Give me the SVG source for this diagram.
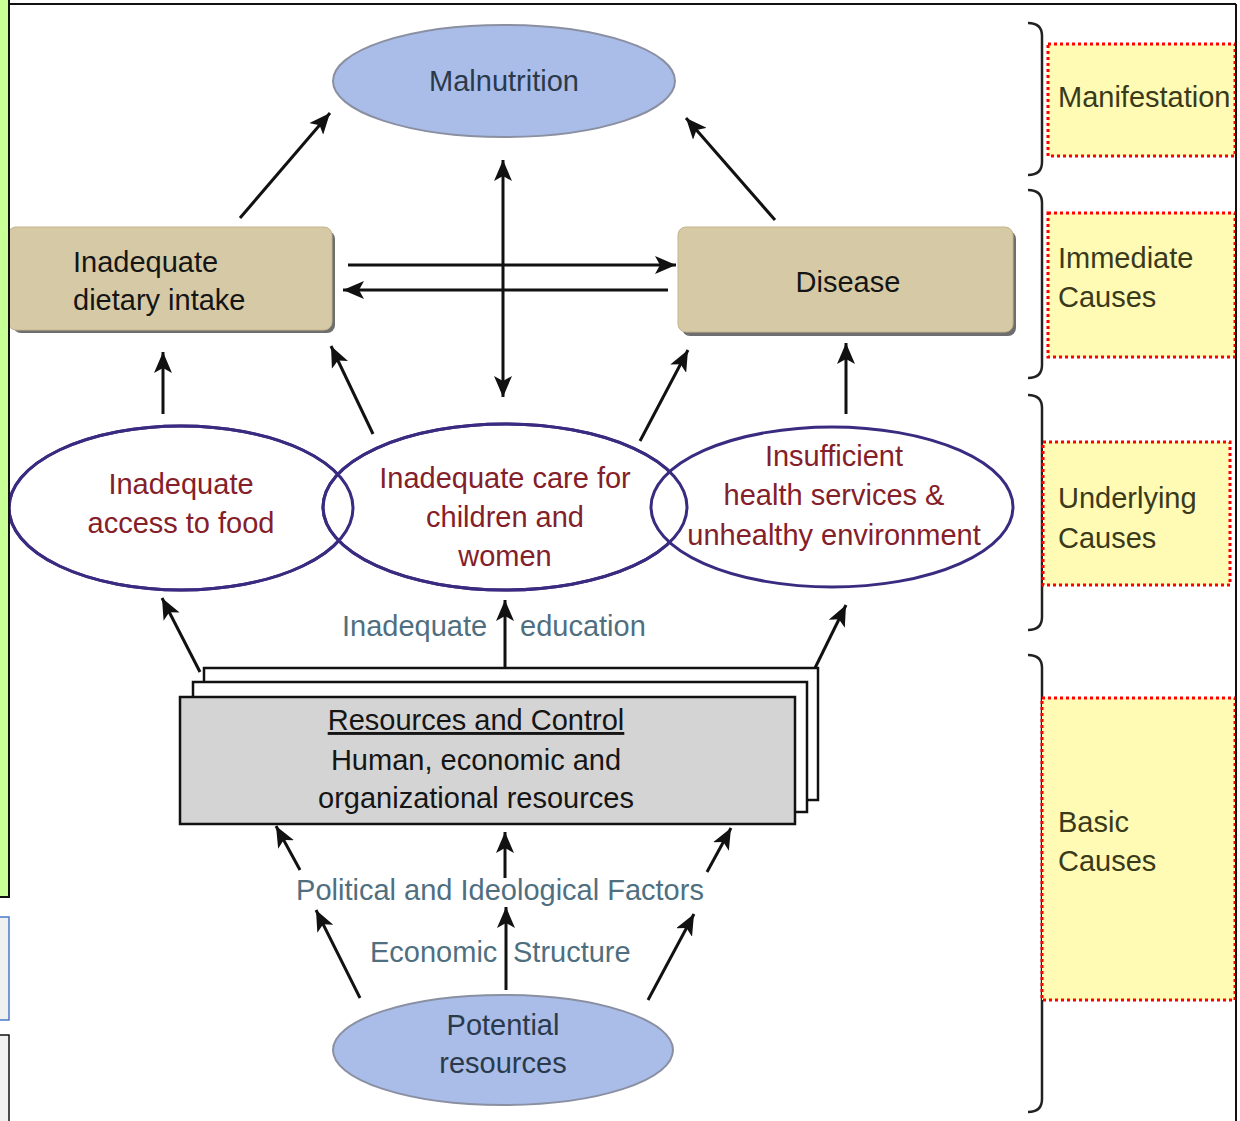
<svg xmlns="http://www.w3.org/2000/svg" width="1240" height="1121" viewBox="0 0 1240 1121">
<style>
.t{font-family:"Liberation Sans",Arial,sans-serif;font-size:29px}
.dark{fill:#2b3a4a}
.blk{fill:#151515}
.red{fill:#84202a}
.slate{fill:#4f6f80}
.lab{fill:#3a3a1a}
.conn{stroke:#111;stroke-width:3;fill:none}
.uell{fill:#fff;stroke:#3a2a80;stroke-width:3}
.bell{fill:#a9bde8;stroke:#8a90a2;stroke-width:2}
.tan{fill:#d6caa6;stroke:#c2b48c;stroke-width:1}
.shadow{fill:#6e6e6e}
.dot{fill:#fffbb4;stroke:#ff0000;stroke-width:3;stroke-dasharray:3 3}
.brace{fill:none;stroke:#222;stroke-width:2.5}
</style>
<defs>
<marker id="ah" markerUnits="userSpaceOnUse" markerWidth="22" markerHeight="18" refX="21" refY="9" orient="auto-start-reverse" viewBox="0 0 22 18">
<path d="M0,0 L21,9 L0,18 L5,9 z" fill="#111"/>
</marker>
</defs>
<rect width="1240" height="1121" fill="#ffffff"/>
<g id="connectors">
<line class="conn" x1="240" y1="218" x2="330" y2="113" marker-end="url(#ah)"/>
<line class="conn" x1="775" y1="220" x2="686" y2="118" marker-end="url(#ah)"/>
<line class="conn" x1="503" y1="160" x2="503" y2="397" marker-start="url(#ah)" marker-end="url(#ah)"/>
<line class="conn" x1="348" y1="265" x2="676" y2="265" marker-end="url(#ah)"/>
<line class="conn" x1="668" y1="290" x2="343" y2="290" marker-end="url(#ah)"/>
<line class="conn" x1="163" y1="414" x2="163" y2="352" marker-end="url(#ah)"/>
<line class="conn" x1="373" y1="434" x2="331" y2="346" marker-end="url(#ah)"/>
<line class="conn" x1="640" y1="441" x2="688" y2="350" marker-end="url(#ah)"/>
<line class="conn" x1="846" y1="414" x2="846" y2="343" marker-end="url(#ah)"/>
<line class="conn" x1="200" y1="672" x2="162" y2="598" marker-end="url(#ah)"/>
<line class="conn" x1="505" y1="668" x2="505" y2="600" marker-end="url(#ah)"/>
<line class="conn" x1="815" y1="668" x2="846" y2="605" marker-end="url(#ah)"/>
<line class="conn" x1="300" y1="870" x2="276" y2="826" marker-end="url(#ah)"/>
<line class="conn" x1="505" y1="878" x2="505" y2="832" marker-end="url(#ah)"/>
<line class="conn" x1="707" y1="872" x2="731" y2="828" marker-end="url(#ah)"/>
<line class="conn" x1="360" y1="998" x2="316" y2="910" marker-end="url(#ah)"/>
<line class="conn" x1="506" y1="990" x2="506" y2="907" marker-end="url(#ah)"/>
<line class="conn" x1="648" y1="1000" x2="694" y2="914" marker-end="url(#ah)"/>
</g>
<g id="malnutrition">
<ellipse class="bell" cx="504" cy="81" rx="171" ry="56"/>
<text class="t dark" x="504" y="91" text-anchor="middle" font-size="30">Malnutrition</text>
</g>
<g id="dietary">
<rect class="shadow" x="13" y="231" width="322" height="102" rx="8"/>
<rect class="tan" x="8" y="227" width="324" height="103" rx="8"/>
<text class="t blk" x="73" y="272">Inadequate</text>
<text class="t blk" x="73" y="310">dietary intake</text>
</g>
<g id="disease">
<rect class="shadow" x="682" y="231" width="334" height="105" rx="8"/>
<rect class="tan" x="678" y="227" width="335" height="105" rx="8"/>
<text class="t blk" x="848" y="292" text-anchor="middle">Disease</text>
</g>
<g id="food">
<ellipse class="uell" cx="181" cy="508" rx="172" ry="82"/>
</g>
<g id="care">
<ellipse class="uell" cx="505" cy="507" rx="182" ry="83"/>
</g>
<g id="health">
<ellipse class="uell" cx="832" cy="507" rx="181" ry="80"/>
</g>
<g id="underlying-text">
<ellipse cx="181" cy="508" rx="172" ry="82" fill="none" stroke="#3a2a80" stroke-width="3"/>
<ellipse cx="505" cy="507" rx="182" ry="83" fill="none" stroke="#3a2a80" stroke-width="3"/>
<text class="t red" x="181" y="494" text-anchor="middle">Inadequate</text>
<text class="t red" x="181" y="533" text-anchor="middle">access to food</text>
<text class="t red" x="505" y="488" text-anchor="middle">Inadequate care for</text>
<text class="t red" x="505" y="527" text-anchor="middle">children and</text>
<text class="t red" x="505" y="566" text-anchor="middle">women</text>
<text class="t red" x="834" y="466" text-anchor="middle">Insufficient</text>
<text class="t red" x="834" y="505" text-anchor="middle">health services &amp;</text>
<text class="t red" x="834" y="545" text-anchor="middle">unhealthy environment</text>
</g>
<g id="education-label">
<text class="t slate" x="342" y="636">Inadequate</text>
<text class="t slate" x="520" y="636">education</text>
</g>
<g id="resources">
<rect x="204" y="668" width="614" height="132" fill="#fff" stroke="#111" stroke-width="2.5"/>
<rect x="193" y="682" width="614" height="130" fill="#fff" stroke="#111" stroke-width="2.5"/>
<rect x="180" y="697" width="615" height="127" fill="#d4d4d4" stroke="#111" stroke-width="2.5"/>
<text class="t blk" x="476" y="730" text-anchor="middle" text-decoration="underline">Resources and Control</text>
<text class="t blk" x="476" y="770" text-anchor="middle">Human, economic and</text>
<text class="t blk" x="476" y="808" text-anchor="middle">organizational resources</text>
</g>
<g id="factor-labels">
<text class="t slate" x="500" y="900" text-anchor="middle">Political and Ideological Factors</text>
<text class="t slate" x="370" y="962">Economic</text>
<text class="t slate" x="513" y="962">Structure</text>
</g>
<g id="potential">
<ellipse class="bell" cx="503" cy="1050" rx="170" ry="55"/>
<text class="t dark" x="503" y="1035" text-anchor="middle">Potential</text>
<text class="t dark" x="503" y="1073" text-anchor="middle">resources</text>
</g>
<g id="braces">
<path class="brace" d="M1028,23 Q1042,23 1042,36 V162 Q1042,175 1028,175"/>
<path class="brace" d="M1028,190 Q1042,190 1042,203 V365 Q1042,378 1028,378"/>
<path class="brace" d="M1028,395 Q1042,395 1042,408 V617 Q1042,630 1028,630"/>
<path class="brace" d="M1028,655 Q1042,655 1042,668 V1099 Q1042,1112 1028,1112"/>
</g>
<g id="manifestation">
<rect class="dot" x="1048" y="44" width="187" height="112"/>
<text class="t lab" x="1058" y="107">Manifestation</text>
</g>
<g id="immediate">
<rect class="dot" x="1048" y="213" width="187" height="144"/>
<text class="t lab" x="1058" y="268">Immediate</text>
<text class="t lab" x="1058" y="307">Causes</text>
</g>
<g id="underlying">
<rect class="dot" x="1043" y="442" width="187" height="143"/>
<text class="t lab" x="1058" y="508">Underlying</text>
<text class="t lab" x="1058" y="548">Causes</text>
</g>
<g id="basic">
<rect class="dot" x="1042" y="698" width="193" height="302"/>
<text class="t lab" x="1058" y="832">Basic</text>
<text class="t lab" x="1058" y="871">Causes</text>
</g>
<g id="frame">
<line x1="10" y1="4" x2="1236" y2="4" stroke="#111" stroke-width="2"/>
<line x1="1236" y1="4" x2="1236" y2="1121" stroke="#111" stroke-width="2"/>
<rect x="-2" y="-2" width="11" height="899" fill="#c8ff96" stroke="#111" stroke-width="2"/>
<rect x="-2" y="917" width="11" height="103" fill="#f0f0f0" stroke="#4a7ac8" stroke-width="1.5"/>
<rect x="-2" y="1035" width="11" height="90" fill="#f0f0f0" stroke="#111" stroke-width="1.5"/>
</g>
</svg>
